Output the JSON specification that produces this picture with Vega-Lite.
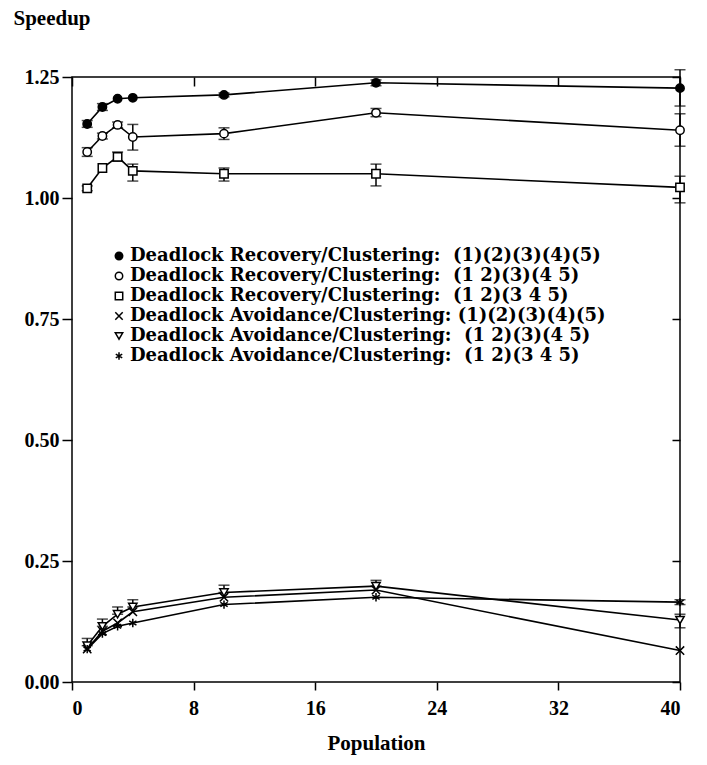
{
  "$schema": "https://vega.github.io/schema/vega-lite/v6.json",
  "width": 608,
  "height": 605,
  "autosize": "none",
  "padding": {"left": 72, "top": 77, "right": 27, "bottom": 83},
  "background": "white",
  "config": {
    "view": {"stroke": "black", "strokeWidth": 1.5},
    "font": "Liberation Serif",
    "axis": {
      "domain": false,
      "grid": false,
      "tickColor": "black",
      "tickWidth": 1.5,
      "labelColor": "black",
      "labelFont": "Liberation Serif",
      "labelFontWeight": "bold",
      "labelFontSize": 20,
      "titleColor": "black",
      "titleFont": "Liberation Serif",
      "titleFontWeight": "bold",
      "titleFontSize": 21
    },
    "legend": {
      "labelFont": "DejaVu Serif",
      "labelFontWeight": "bold",
      "labelFontSize": 18,
      "labelColor": "black",
      "labelLimit": 0
    }
  },
  "data": {
    "values": [
      {"series": "Deadlock Recovery/Clustering:\u00a0 (1)(2)(3)(4)(5)", "population": 1, "speedup": 1.153, "lo": 1.146, "hi": 1.16},
      {"series": "Deadlock Recovery/Clustering:\u00a0 (1)(2)(3)(4)(5)", "population": 2, "speedup": 1.188, "lo": 1.181, "hi": 1.195},
      {"series": "Deadlock Recovery/Clustering:\u00a0 (1)(2)(3)(4)(5)", "population": 3, "speedup": 1.205},
      {"series": "Deadlock Recovery/Clustering:\u00a0 (1)(2)(3)(4)(5)", "population": 4, "speedup": 1.207},
      {"series": "Deadlock Recovery/Clustering:\u00a0 (1)(2)(3)(4)(5)", "population": 10, "speedup": 1.213, "lo": 1.209, "hi": 1.217},
      {"series": "Deadlock Recovery/Clustering:\u00a0 (1)(2)(3)(4)(5)", "population": 20, "speedup": 1.238, "lo": 1.232, "hi": 1.244},
      {"series": "Deadlock Recovery/Clustering:\u00a0 (1)(2)(3)(4)(5)", "population": 40, "speedup": 1.227, "lo": 1.19, "hi": 1.265},
      {"series": "Deadlock Recovery/Clustering:\u00a0 (1 2)(3)(4 5)", "population": 1, "speedup": 1.095, "lo": 1.086, "hi": 1.104},
      {"series": "Deadlock Recovery/Clustering:\u00a0 (1 2)(3)(4 5)", "population": 2, "speedup": 1.128, "lo": 1.122, "hi": 1.134},
      {"series": "Deadlock Recovery/Clustering:\u00a0 (1 2)(3)(4 5)", "population": 3, "speedup": 1.151, "lo": 1.145, "hi": 1.157},
      {"series": "Deadlock Recovery/Clustering:\u00a0 (1 2)(3)(4 5)", "population": 4, "speedup": 1.126, "lo": 1.099, "hi": 1.152},
      {"series": "Deadlock Recovery/Clustering:\u00a0 (1 2)(3)(4 5)", "population": 10, "speedup": 1.133, "lo": 1.121, "hi": 1.145},
      {"series": "Deadlock Recovery/Clustering:\u00a0 (1 2)(3)(4 5)", "population": 20, "speedup": 1.176, "lo": 1.168, "hi": 1.185},
      {"series": "Deadlock Recovery/Clustering:\u00a0 (1 2)(3)(4 5)", "population": 40, "speedup": 1.14, "lo": 1.107, "hi": 1.174},
      {"series": "Deadlock Recovery/Clustering:\u00a0 (1 2)(3 4 5)", "population": 1, "speedup": 1.02, "lo": 1.015, "hi": 1.025},
      {"series": "Deadlock Recovery/Clustering:\u00a0 (1 2)(3 4 5)", "population": 2, "speedup": 1.062},
      {"series": "Deadlock Recovery/Clustering:\u00a0 (1 2)(3 4 5)", "population": 3, "speedup": 1.085, "lo": 1.076, "hi": 1.095},
      {"series": "Deadlock Recovery/Clustering:\u00a0 (1 2)(3 4 5)", "population": 4, "speedup": 1.056, "lo": 1.035, "hi": 1.07},
      {"series": "Deadlock Recovery/Clustering:\u00a0 (1 2)(3 4 5)", "population": 10, "speedup": 1.05, "lo": 1.035, "hi": 1.062},
      {"series": "Deadlock Recovery/Clustering:\u00a0 (1 2)(3 4 5)", "population": 20, "speedup": 1.05, "lo": 1.025, "hi": 1.07},
      {"series": "Deadlock Recovery/Clustering:\u00a0 (1 2)(3 4 5)", "population": 40, "speedup": 1.022, "lo": 0.99, "hi": 1.045},
      {"series": "Deadlock Avoidance/Clustering: (1)(2)(3)(4)(5)", "population": 1, "speedup": 0.068},
      {"series": "Deadlock Avoidance/Clustering: (1)(2)(3)(4)(5)", "population": 2, "speedup": 0.105},
      {"series": "Deadlock Avoidance/Clustering: (1)(2)(3)(4)(5)", "population": 3, "speedup": 0.122},
      {"series": "Deadlock Avoidance/Clustering: (1)(2)(3)(4)(5)", "population": 4, "speedup": 0.145},
      {"series": "Deadlock Avoidance/Clustering: (1)(2)(3)(4)(5)", "population": 10, "speedup": 0.175},
      {"series": "Deadlock Avoidance/Clustering: (1)(2)(3)(4)(5)", "population": 20, "speedup": 0.19},
      {"series": "Deadlock Avoidance/Clustering: (1)(2)(3)(4)(5)", "population": 40, "speedup": 0.065},
      {"series": "Deadlock Avoidance/Clustering:\u00a0 (1 2)(3)(4 5)", "population": 1, "speedup": 0.075, "lo": 0.075, "hi": 0.09},
      {"series": "Deadlock Avoidance/Clustering:\u00a0 (1 2)(3)(4 5)", "population": 2, "speedup": 0.115, "lo": 0.115, "hi": 0.13},
      {"series": "Deadlock Avoidance/Clustering:\u00a0 (1 2)(3)(4 5)", "population": 3, "speedup": 0.14, "lo": 0.14, "hi": 0.155},
      {"series": "Deadlock Avoidance/Clustering:\u00a0 (1 2)(3)(4 5)", "population": 4, "speedup": 0.155, "lo": 0.155, "hi": 0.17},
      {"series": "Deadlock Avoidance/Clustering:\u00a0 (1 2)(3)(4 5)", "population": 10, "speedup": 0.185, "lo": 0.185, "hi": 0.2},
      {"series": "Deadlock Avoidance/Clustering:\u00a0 (1 2)(3)(4 5)", "population": 20, "speedup": 0.198, "lo": 0.198, "hi": 0.21},
      {"series": "Deadlock Avoidance/Clustering:\u00a0 (1 2)(3)(4 5)", "population": 40, "speedup": 0.128, "lo": 0.112, "hi": 0.14},
      {"series": "Deadlock Avoidance/Clustering:\u00a0 (1 2)(3 4 5)", "population": 1, "speedup": 0.068},
      {"series": "Deadlock Avoidance/Clustering:\u00a0 (1 2)(3 4 5)", "population": 2, "speedup": 0.1},
      {"series": "Deadlock Avoidance/Clustering:\u00a0 (1 2)(3 4 5)", "population": 3, "speedup": 0.115},
      {"series": "Deadlock Avoidance/Clustering:\u00a0 (1 2)(3 4 5)", "population": 4, "speedup": 0.122},
      {"series": "Deadlock Avoidance/Clustering:\u00a0 (1 2)(3 4 5)", "population": 10, "speedup": 0.16},
      {"series": "Deadlock Avoidance/Clustering:\u00a0 (1 2)(3 4 5)", "population": 20, "speedup": 0.175},
      {"series": "Deadlock Avoidance/Clustering:\u00a0 (1 2)(3 4 5)", "population": 40, "speedup": 0.165, "lo": 0.16, "hi": 0.17}
    ]
  },
  "resolve": {"axis": {"x": "independent", "y": "independent"}},
  "layer": [
    {
      "mark": {"type": "line", "color": "black", "strokeWidth": 1.6},
      "encoding": {
        "x": {
          "field": "population", "type": "quantitative",
          "scale": {"domain": [0, 40], "nice": false, "zero": false},
          "axis": {"orient": "bottom", "values": [0, 8, 16, 24, 32, 40], "tickSize": 8, "labelPadding": 8, "title": "Population", "titleY": 67, "titleBaseline": "alphabetic"}
        },
        "y": {
          "field": "speedup", "type": "quantitative",
          "scale": {"domain": [0, 1.25], "nice": false, "zero": false},
          "axis": {"orient": "left", "values": [0, 0.25, 0.5, 0.75, 1, 1.25], "format": ".2f", "tickSize": 10, "labelPadding": 3, "title": "Speedup", "titleAngle": 0, "titleAlign": "left", "titleBaseline": "alphabetic", "titleX": -59, "titleY": -53}
        },
        "detail": {"field": "series"}
      }
    },
    {
      "transform": [{"filter": "isValid(datum.lo)"}],
      "mark": {"type": "rule", "color": "black", "strokeWidth": 1.5},
      "encoding": {
        "x": {"field": "population", "type": "quantitative", "axis": null},
        "y": {"field": "lo", "type": "quantitative", "axis": null},
        "y2": {"field": "hi"}
      }
    },
    {
      "transform": [{"filter": "isValid(datum.lo)"}, {"fold": ["lo", "hi"], "as": ["bound", "value"]}],
      "mark": {"type": "tick", "color": "black", "orient": "horizontal", "size": 11, "thickness": 1.5},
      "encoding": {
        "x": {"field": "population", "type": "quantitative", "axis": null},
        "y": {"field": "value", "type": "quantitative", "axis": null}
      }
    },
    {
      "mark": {"type": "point", "stroke": "black", "strokeWidth": 1.5, "size": 70, "opacity": 1},
      "encoding": {
        "x": {"field": "population", "type": "quantitative", "axis": null},
        "y": {"field": "speedup", "type": "quantitative", "axis": null},
        "shape": {
          "field": "series", "type": "nominal",
          "scale": {
            "domain": [
              "Deadlock Recovery/Clustering:\u00a0 (1)(2)(3)(4)(5)",
              "Deadlock Recovery/Clustering:\u00a0 (1 2)(3)(4 5)",
              "Deadlock Recovery/Clustering:\u00a0 (1 2)(3 4 5)",
              "Deadlock Avoidance/Clustering: (1)(2)(3)(4)(5)",
              "Deadlock Avoidance/Clustering:\u00a0 (1 2)(3)(4 5)",
              "Deadlock Avoidance/Clustering:\u00a0 (1 2)(3 4 5)"
            ],
            "range": ["circle", "circle", "square", "M-1,-1L1,1M-1,1L1,-1", "triangle-down", "M0,-1L0,1M-0.87,-0.5L0.87,0.5M-0.87,0.5L0.87,-0.5"]
          },
          "legend": {
            "title": null, "orient": "none", "legendX": 38, "legendY": 170, "padding": 0,
            "symbolSize": 55, "labelOffset": 2, "rowPadding": 2,
            "encode": {"symbols": {"update": {"stroke": {"value": "black"}, "strokeWidth": {"value": 1.3}, "opacity": {"value": 1}}}}
          }
        },
        "fill": {
          "field": "series", "type": "nominal",
          "scale": {
            "domain": [
              "Deadlock Recovery/Clustering:\u00a0 (1)(2)(3)(4)(5)",
              "Deadlock Recovery/Clustering:\u00a0 (1 2)(3)(4 5)",
              "Deadlock Recovery/Clustering:\u00a0 (1 2)(3 4 5)",
              "Deadlock Avoidance/Clustering: (1)(2)(3)(4)(5)",
              "Deadlock Avoidance/Clustering:\u00a0 (1 2)(3)(4 5)",
              "Deadlock Avoidance/Clustering:\u00a0 (1 2)(3 4 5)"
            ],
            "range": ["black", "white", "white", "white", "white", "white"]
          },
          "legend": {
            "title": null, "orient": "none", "legendX": 38, "legendY": 170, "padding": 0,
            "symbolSize": 55, "labelOffset": 2, "rowPadding": 2,
            "encode": {"symbols": {"update": {"stroke": {"value": "black"}, "strokeWidth": {"value": 1.3}, "opacity": {"value": 1}}}}
          }
        }
      }
    },
    {
      "mark": {"type": "point", "opacity": 0},
      "encoding": {
        "x": {"field": "population", "type": "quantitative", "axis": {"orient": "top", "values": [0, 8, 16, 24, 32, 40], "tickSize": -9, "labels": false, "title": null}},
        "y": {"field": "speedup", "type": "quantitative", "axis": {"orient": "right", "values": [0, 0.25, 0.5, 0.75, 1, 1.25], "tickSize": -8, "labels": false, "title": null}}
      }
    }
  ]
}
